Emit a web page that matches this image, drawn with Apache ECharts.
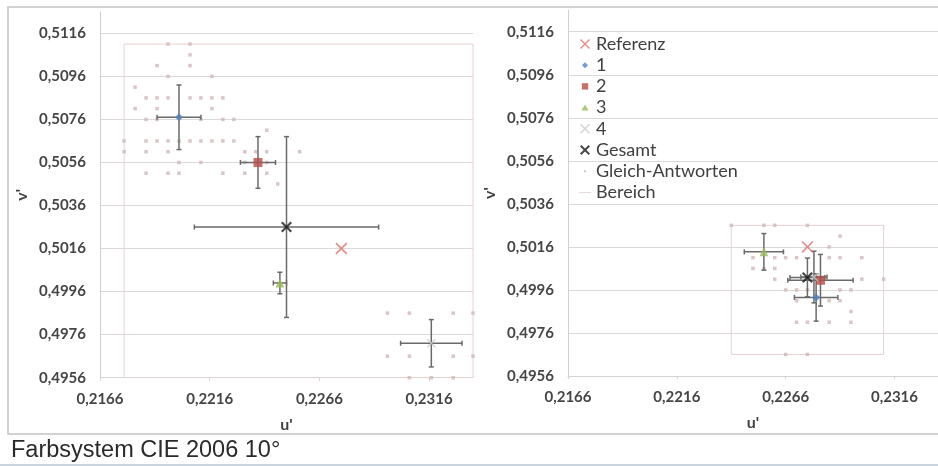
<!DOCTYPE html>
<html><head><meta charset="utf-8">
<script src="https://cdn.jsdelivr.net/npm/echarts@6/dist/echarts.min.js"></script>
<style>html,body{margin:0;padding:0;background:#fff}#c{width:938px;height:466px}</style>
</head><body><div id="c"></div>
<script>
// ---------- axis settings ----------
const uMin = 0.2166, uMax = 0.2336, uStep = 0.005;   // u' ticks: 0,2166 0,2216 0,2266 0,2316
const vMin = 0.4956, vMax = 0.5126, vStep = 0.002;   // v' ticks: 0,4956 ... 0,5116
const seriesNames = ['Referenz', '1', '2', '3', '4', 'Gesamt', 'Gleich-Antworten', 'Bereich'];
const caption = 'Farbsystem CIE 2006 10°';

// ---------- left panel ----------
const leftReferenz = [[0.2276, 0.5016]];
// order: 1, 2, 3, 4, Gesamt
const leftMeanU = [0.2202, 0.2238, 0.2248, 0.2317, 0.2251];
const leftMeanV = [0.5077, 0.5056, 0.5000, 0.4972, 0.5026];
const leftErrU  = [0.0010, 0.0008, 0.0003, 0.0014, 0.0042];
const leftErrV  = [0.0015, 0.0012, 0.0005, 0.0011, 0.0042];
const leftGleich = [
  [0.2197,0.5111],[0.2207,0.5111],
  [0.2207,0.5106],
  [0.2192,0.5101],[0.2207,0.5101],
  [0.2197,0.5096],[0.2217,0.5096],
  [0.2182,0.5091],
  [0.2187,0.5086],[0.2192,0.5086],[0.2197,0.5086],[0.2207,0.5086],[0.2212,0.5086],[0.2217,0.5086],[0.2222,0.5086],
  [0.2182,0.5081],[0.2192,0.5081],[0.2217,0.5081],
  [0.2187,0.5076],[0.2192,0.5076],[0.2212,0.5076],[0.2222,0.5076],[0.2227,0.5076],
  [0.2242,0.5071],
  [0.2177,0.5066],[0.2187,0.5066],[0.2192,0.5066],[0.2197,0.5066],[0.2202,0.5066],[0.2207,0.5066],[0.2212,0.5066],[0.2217,0.5066],[0.2222,0.5066],[0.2227,0.5066],
  [0.2177,0.5061],[0.2187,0.5061],[0.2197,0.5061],[0.2232,0.5061],[0.2237,0.5061],[0.2242,0.5061],[0.2257,0.5061],
  [0.2202,0.5056],[0.2212,0.5056],[0.2232,0.5056],[0.2242,0.5056],
  [0.2187,0.5051],[0.2197,0.5051],[0.2202,0.5051],[0.2222,0.5051],[0.2232,0.5051],[0.2242,0.5051],
  [0.2247,0.5046],
  [0.2297,0.4986],[0.2307,0.4986],[0.2327,0.4986],[0.2336,0.4986],
  [0.2297,0.4966],[0.2307,0.4966],[0.2327,0.4966],[0.2336,0.4966],
  [0.2307,0.4956],[0.2317,0.4956],[0.2327,0.4956]
];
const leftBereich = [0.2177, 0.2336, 0.4956, 0.5111]; // uLow, uHigh, vLow, vHigh

// ---------- right panel ----------
const rightReferenz = [[0.2276, 0.5016]];
const rightMeanU = [0.2280, 0.2282, 0.2256, 0.2279, 0.2276];
const rightMeanV = [0.49925, 0.50005, 0.50137, 0.5002, 0.50018];
const rightErrU  = [0.0010, 0.0015, 0.0009, 0.0006, 0.0008];
const rightErrV  = [0.0011, 0.0012, 0.00085, 0.0012, 0.0009];
const rightGleich = [
  [0.2241,0.5026],[0.2256,0.5026],[0.2261,0.5026],[0.2276,0.5026],
  [0.2291,0.5021],
  [0.2286,0.5016],
  [0.2251,0.5011],[0.2261,0.5011],[0.2266,0.5011],[0.2271,0.5011],[0.2286,0.5011],[0.2291,0.5011],[0.2301,0.5011],
  [0.2251,0.5006],[0.2256,0.5006],[0.2261,0.5006],
  [0.2261,0.5001],[0.2301,0.5001],[0.2311,0.5001],
  [0.2266,0.4996],[0.2271,0.4996],[0.2276,0.4996],[0.2291,0.4996],[0.2296,0.4996],
  [0.2271,0.4991],[0.2286,0.4991],[0.2291,0.4991],
  [0.2296,0.4986],
  [0.2271,0.4981],[0.2276,0.4981],[0.2286,0.4981],[0.2296,0.4981],
  [0.2266,0.4966],[0.2276,0.4966]
];
const rightBereich = [0.2241, 0.2311, 0.4966, 0.5026];

// ---------- styling ----------
const FONT = 'Lato';
const colRef = '#E07070', col1 = '#4F81BD', col2 = '#B84C4A', col3 = '#9BBB59', col4 = '#C8C8C8', colG = '#1a1a1a';
const colDots = '#CFB8B8', colBereich = '#E6D2D2', colErr = '#6a6a6a';
const X_THIN = 'path://M0,1L1,0L5,4L9,0L10,1L6,5L10,9L9,10L5,6L1,10L0,9L4,5Z';
const X_BOLD = 'path://M0,1.4L1.4,0L5,3.6L8.6,0L10,1.4L6.4,5L10,8.6L8.6,10L5,6.4L1.4,10L0,8.6L3.6,5Z';
const icons = {
  'Referenz': X_THIN,
  '1': 'path://M0,0M10,10M5,2L8,5L5,8L2,5Z',
  '2': 'path://M0,0M10,10M1.8,1.8L8.2,1.8L8.2,8.2L1.8,8.2Z',
  '3': 'path://M0,0M10,10M5,2L8.6,8L1.4,8Z',
  '4': X_THIN,
  'Gesamt': X_BOLD,
  'Gleich-Antworten': 'path://M0,0M10,10M4,4L6,4L6,6L4,6Z',
  'Bereich': 'path://M0,0M14,10M0,4.5L14,4.5L14,5.5L0,5.5Z'
};
const meanStyles = [
  {name: '1', symbol: 'diamond', size: 8, color: col1},
  {name: '2', symbol: 'rect', size: 9, color: col2},
  {name: '3', symbol: 'triangle', size: 9, color: col3},
  {name: '4', symbol: X_THIN, size: 9, color: col4},
  {name: 'Gesamt', symbol: X_BOLD, size: 11, color: colG}
];

const fmt = v => v.toFixed(4).replace('.', ',');

function errRender(params, api) {
  const u = api.value(0), v = api.value(1), du = api.value(2), dv = api.value(3);
  const l = api.coord([u - du, v]), r = api.coord([u + du, v]);
  const t = api.coord([u, v + dv]), b = api.coord([u, v - dv]);
  const cap = 2.5;
  const style = {stroke: colErr, lineWidth: 1.5};
  const ln = (x1, y1, x2, y2) => ({type: 'line', shape: {x1, y1, x2, y2}, style});
  return {type: 'group', children: [
    ln(l[0], l[1], r[0], r[1]),
    ln(l[0], l[1] - cap, l[0], l[1] + cap),
    ln(r[0], r[1] - cap, r[0], r[1] + cap),
    ln(t[0], t[1], b[0], b[1]),
    ln(t[0] - cap, t[1], t[0] + cap, t[1]),
    ln(b[0] - cap, b[1], b[0] + cap, b[1])
  ]};
}

function panelSeries(idx, referenz, mu, mv, eu, ev, gleich, bereich) {
  const ax = {xAxisIndex: idx, yAxisIndex: idx};
  const list = [];
  const [u0, u1, v0, v1] = bereich;
  list.push(Object.assign({
    name: 'Bereich', type: 'line', showSymbol: false, symbol: 'none', silent: true, z: 1,
    color: colBereich, lineStyle: {color: colBereich, width: 1},
    data: [[u0, v0], [u1, v0], [u1, v1], [u0, v1], [u0, v0]]
  }, ax));
  list.push(Object.assign({
    name: 'Gleich-Antworten', type: 'scatter', symbol: 'rect', symbolSize: 3.5, z: 2,
    itemStyle: {color: colDots}, data: gleich
  }, ax));
  list.push(Object.assign({
    name: 'err' + idx, type: 'custom', z: 3, renderItem: errRender,
    encode: {x: 0, y: 1},
    data: mu.map((u, i) => [u, mv[i], eu[i], ev[i]])
  }, ax));
  meanStyles.forEach((s, i) => {
    list.push(Object.assign({
      name: s.name, type: 'scatter', symbol: s.symbol, symbolSize: s.size, z: 5,
      itemStyle: {color: s.color}, data: [[mu[i], mv[i]]]
    }, ax));
  });
  list.push(Object.assign({
    name: 'Referenz', type: 'scatter', symbol: X_THIN, symbolSize: 12, z: 4,
    itemStyle: {color: colRef}, data: referenz
  }, ax));
  return list;
}

function xAxisCfg(gridIndex) {
  return {
    type: 'value', gridIndex, min: uMin, max: uMax, interval: uStep,
    name: "u'", nameLocation: 'middle', nameGap: 39,
    nameTextStyle: {fontFamily: FONT, fontSize: 16, fontWeight: 'bold', color: '#404040'},
    axisLine: {show: true, lineStyle: {color: '#d4d4d4', width: 1}},
    axisTick: {show: true, length: 3, lineStyle: {color: '#d4d4d4'}},
    axisLabel: {formatter: fmt, showMaxLabel: false, margin: 14, fontFamily: FONT, fontSize: 15, fontWeight: 'bold', color: '#454545'},
    splitLine: {show: false}
  };
}
function yAxisCfg(gridIndex) {
  return {
    type: 'value', gridIndex, min: vMin, max: vMax, interval: vStep,
    name: "v'", nameLocation: 'middle', nameGap: 70, nameRotate: 90,
    nameTextStyle: {fontFamily: FONT, fontSize: 16, fontWeight: 'bold', color: '#404040'},
    axisLine: {show: true, lineStyle: {color: '#cfcfcf', width: 1}},
    axisTick: {show: false},
    axisLabel: {formatter: fmt, showMaxLabel: false, margin: 14, fontFamily: FONT, fontSize: 15, fontWeight: 'bold', color: '#454545'},
    splitLine: {show: true, showMaxLine: false, lineStyle: {color: '#d9d9d9', width: 1}}
  };
}

const chart = echarts.init(document.getElementById('c'), null, {renderer: 'canvas'});
chart.setOption({
  animation: false,
  backgroundColor: '#ffffff',
  grid: [
    {left: 100, top: 11.8, width: 373, height: 365.9},
    {left: 568, top: 10.2, width: 370.6, height: 365.8}
  ],
  xAxis: [xAxisCfg(0), xAxisCfg(1)],
  yAxis: [yAxisCfg(0), yAxisCfg(1)],
  legend: {
    data: seriesNames.map(n => ({name: n, icon: icons[n]})),
    orient: 'vertical', left: 574, top: 30, itemWidth: 12, itemHeight: 10, itemGap: 3.2,
    selectedMode: false,
    textStyle: {fontFamily: FONT, fontSize: 18, color: '#404040'}
  },
  graphic: [
    {type: 'rect', silent: true, z: -1, shape: {x: 8, y: 7, width: 940, height: 427},
      style: {fill: 'none', stroke: '#c4c4c4', lineWidth: 1.5}},
    {type: 'line', silent: true, shape: {x1: 0, y1: 465, x2: 938, y2: 465},
      style: {stroke: '#b9c6d3', lineWidth: 1.5}},
    {type: 'text', left: 11, top: 439, silent: true,
      style: {text: caption, font: '23.5px "Liberation Sans", Arial, sans-serif', fill: '#2a2a2a'}}
  ],
  series: [
    ...panelSeries(0, leftReferenz, leftMeanU, leftMeanV, leftErrU, leftErrV, leftGleich, leftBereich),
    ...panelSeries(1, rightReferenz, rightMeanU, rightMeanV, rightErrU, rightErrV, rightGleich, rightBereich)
  ]
});
</script></body></html>
